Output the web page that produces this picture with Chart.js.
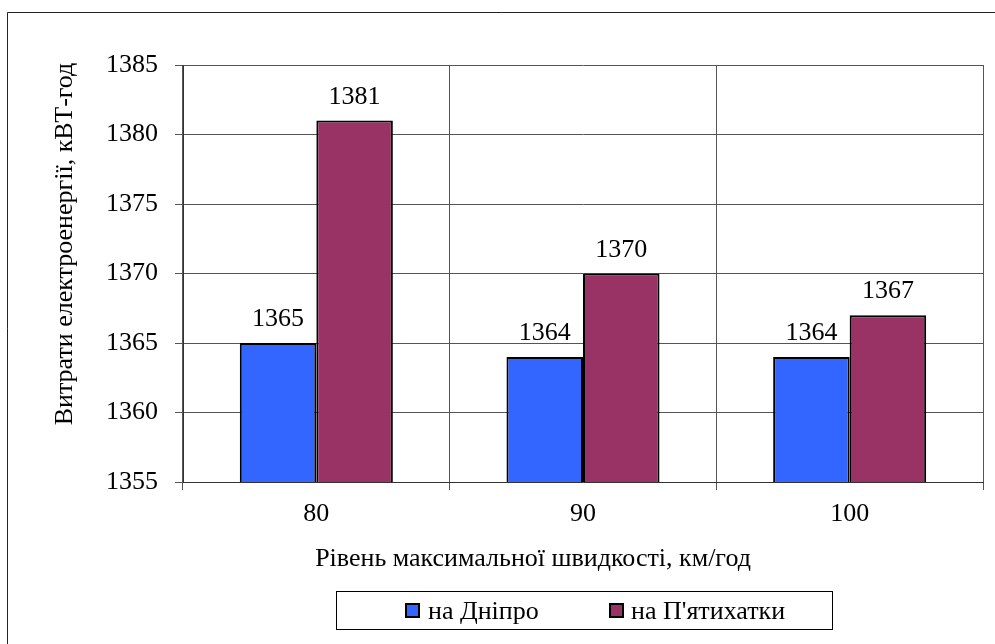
<!DOCTYPE html>
<html>
<head>
<meta charset="UTF-8">
<title>Витрати електроенергії</title>
<style>
    body { margin: 0; background: #fff; }
    #wrap { width: 995px; height: 644px; position: relative; }
    #chart { position: relative; z-index: 1; }
    #fontwarm {
        position: absolute; right: 2px; top: 0;
        font: 10px "Liberation Serif", serif; line-height: 10px;
        color: #fff; z-index: 0;
    }
</style>
</head>
<body>
<div id="wrap">
    <span id="fontwarm">Витрати 1385</span>
    <canvas id="chart" width="995" height="644"></canvas>
</div>
<script src="https://cdn.jsdelivr.net/npm/chart.js@4/dist/chart.umd.min.js"></script>
<script>
const speeds = ['80', '90', '100'];
const toDnipro = [1365, 1364, 1364];
const toPyatykhatky = [1381, 1370, 1367];
const yTicks = [1355, 1360, 1365, 1370, 1375, 1380, 1385];

const FONT = '"Liberation Serif", serif';
const xTitle = 'Рівень максимальної швидкості, км/год';
const yTitle = 'Витрати електроенергії, кВТ-год';

// value labels above each bar
const barValues = {
    id: 'barValues',
    afterDatasetsDraw(chart) {
        const ctx = chart.ctx;
        ctx.save();
        ctx.font = '26px ' + FONT;
        ctx.fillStyle = '#000';
        ctx.textAlign = 'center';
        ctx.textBaseline = 'alphabetic';
        chart.data.datasets.forEach((ds, i) => {
            chart.getDatasetMeta(i).data.forEach((bar, j) => {
                ctx.fillText(String(ds.data[j]), bar.x, bar.y - 17);
            });
        });
        ctx.restore();
    }
};

// frame, axis titles and boxed legend
const decorations = {
    id: 'decorations',
    afterDraw(chart) {
        const ctx = chart.ctx;
        ctx.save();
        ctx.strokeStyle = '#222';
        ctx.lineWidth = 1;
        ctx.beginPath();
        ctx.moveTo(7.5, 644);
        ctx.lineTo(7.5, 12.5);
        ctx.lineTo(995, 12.5);
        ctx.stroke();

        ctx.fillStyle = '#000';
        ctx.font = '26px ' + FONT;
        ctx.textAlign = 'center';
        ctx.textBaseline = 'alphabetic';
        ctx.fillText(xTitle, 533, 566);

        ctx.save();
        ctx.translate(72, 244);
        ctx.rotate(-Math.PI / 2);
        ctx.fillText(yTitle, 0, 0);
        ctx.restore();

        // legend
        ctx.strokeStyle = '#000';
        ctx.strokeRect(336.5, 591.5, 496, 38);
        const items = [[406, 428], [610, 631]];
        ctx.textAlign = 'left';
        chart.data.datasets.forEach((ds, i) => {
            const [sx, tx] = items[i];
            ctx.fillStyle = ds.backgroundColor;
            ctx.fillRect(sx, 604, 13, 13);
            ctx.lineWidth = 2;
            ctx.strokeRect(sx, 604, 13, 13);
            ctx.fillStyle = '#000';
            ctx.fillText(ds.label, tx, 619);
        });
        ctx.restore();
    }
};

function draw() {
    new Chart(document.getElementById('chart'), {
        type: 'bar',
        data: {
            labels: speeds,
            datasets: [
                { label: 'на Дніпро', data: toDnipro, backgroundColor: '#3366ff' },
                { label: "на П'ятихатки", data: toPyatykhatky, backgroundColor: '#993366' }
            ]
        },
        options: {
            responsive: false,
            animation: false,
            devicePixelRatio: 1,
            layout: { padding: { top: 65, right: 12, bottom: 0, left: 0 } },
            datasets: {
                bar: {
                    borderColor: '#000',
                    borderWidth: 2,
                    borderSkipped: false,
                    categoryPercentage: 0.574,
                    barPercentage: 1
                }
            },
            plugins: {
                legend: { display: false },
                tooltip: { enabled: false }
            },
            scales: {
                x: {
                    grid: { color: '#555', lineWidth: 1, tickLength: 8, offset: true },
                    border: { color: '#333' },
                    ticks: { color: '#000', font: { family: FONT, size: 26, lineHeight: 1 }, padding: 11 },
                    afterFit(scale) { scale.height = 162; }
                },
                y: {
                    min: 1355,
                    max: 1385,
                    afterBuildTicks(scale) { scale.ticks = yTicks.map(v => ({ value: v })); },
                    grid: { color: '#555', lineWidth: 1, tickLength: 8 },
                    border: { color: '#333' },
                    ticks: {
                        color: '#000',
                        font: { family: FONT, size: 26, lineHeight: 1 },
                        padding: 17,
                        callback: v => String(v)
                    },
                    afterFit(scale) { scale.width = 183; }
                }
            }
        },
        plugins: [barValues, decorations]
    });
}

// wait until the serif face is in use on the page before drawing
document.fonts.ready.then(() => requestAnimationFrame(draw));
</script>
</body>
</html>
